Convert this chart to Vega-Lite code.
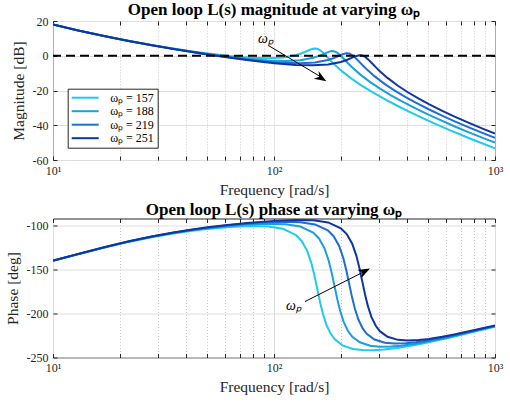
{
  "$schema": "https://vega.github.io/schema/vega-lite/v6.json",
  "background": "white",
  "padding": {"left": 4, "top": 0, "right": 0, "bottom": 0},
  "spacing": 58.5,
  "bounds": "flush",
  "resolve": {"scale": {"color": "independent"}},
  "config": {
    "font": "Liberation Serif",
    "view": {"stroke": "#262626", "strokeWidth": 1},
    "axis": {
      "labelFont": "Liberation Serif", "labelFontSize": 12, "labelColor": "#262626",
      "titleFont": "Liberation Serif", "titleFontSize": 15.5, "titleFontWeight": "normal", "titleColor": "#262626",
      "domain": false, "tickColor": "#262626", "gridColor": "#dedede", "gridWidth": 1
    },
    "title": {"font": "Liberation Serif", "fontSize": 17, "fontWeight": "bold", "color": "#000000", "offset": -3.5, "frame": "group"}
  },
  "datasets": {
    "curves": [
      {"s":"157","w":10,"m":18.03,"p":-140.18},{"s":"157","w":13,"m":14.59,"p":-132.69},{"s":"157","w":17,"m":11.38,"p":-125.21},{"s":"157","w":22,"m":8.58,"p":-118.60},{"s":"157","w":28,"m":6.20,"p":-113.22},{"s":"157","w":35,"m":4.17,"p":-108.99},{"s":"157","w":42,"m":2.65,"p":-106.12},{"s":"157","w":47.1,"m":1.76,"p":-104.56},{"s":"157","w":62.8,"m":-0.17,"p":-101.61},{"s":"157","w":78.5,"m":-1.21,"p":-100.52},{"s":"157","w":94.2,"m":-1.50,"p":-101.05},{"s":"157","w":109.9,"m":-1.04,"p":-103.75},{"s":"157","w":125.6,"m":0.33,"p":-110.72},{"s":"157","w":133.45,"m":1.43,"p":-117.53},{"s":"157","w":141.3,"m":2.75,"p":-128.75},{"s":"157","w":147.58,"m":3.75,"p":-142.69},{"s":"157","w":152.29,"m":4.16,"p":-156.55},{"s":"157","w":157,"m":3.99,"p":-172.23},{"s":"157","w":161.71,"m":3.15,"p":-187.48},{"s":"157","w":166.42,"m":1.83,"p":-200.32},{"s":"157","w":172.7,"m":-0.25,"p":-212.93},{"s":"157","w":180.55,"m":-2.83,"p":-223.08},{"s":"157","w":188.4,"m":-5.18,"p":-229.37},{"s":"157","w":204.1,"m":-9.14,"p":-236.17},{"s":"157","w":227.65,"m":-13.77,"p":-240.26},{"s":"157","w":251.2,"m":-17.44,"p":-241.59},{"s":"157","w":282.6,"m":-21.41,"p":-241.69},{"s":"157","w":314,"m":-24.70,"p":-240.94},{"s":"157","w":361.1,"m":-28.78,"p":-239.16},{"s":"157","w":408.2,"m":-32.15,"p":-237.05},{"s":"157","w":471,"m":-35.91,"p":-234.13},{"s":"157","w":549.5,"m":-39.76,"p":-230.54},{"s":"157","w":628,"m":-42.96,"p":-227.18},{"s":"157","w":785,"m":-48.05,"p":-221.29},{"s":"157","w":1000,"m":-53.24,"p":-214.88},
      {"s":"188","w":10,"m":18.02,"p":-140.05},{"s":"188","w":13,"m":14.57,"p":-132.52},{"s":"188","w":17,"m":11.35,"p":-124.99},{"s":"188","w":22,"m":8.53,"p":-118.31},{"s":"188","w":28,"m":6.11,"p":-112.83},{"s":"188","w":35,"m":4.04,"p":-108.49},{"s":"188","w":42,"m":2.45,"p":-105.49},{"s":"188","w":50,"m":1.03,"p":-103.02},{"s":"188","w":56.4,"m":0.12,"p":-101.55},{"s":"188","w":75.2,"m":-1.77,"p":-98.90},{"s":"188","w":94,"m":-2.78,"p":-97.91},{"s":"188","w":112.8,"m":-3.06,"p":-98.43},{"s":"188","w":131.6,"m":-2.58,"p":-101.07},{"s":"188","w":150.4,"m":-1.19,"p":-107.94},{"s":"188","w":159.8,"m":-0.09,"p":-114.69},{"s":"188","w":169.2,"m":1.25,"p":-125.86},{"s":"188","w":176.72,"m":2.24,"p":-139.74},{"s":"188","w":182.36,"m":2.66,"p":-153.55},{"s":"188","w":188,"m":2.50,"p":-169.21},{"s":"188","w":193.64,"m":1.67,"p":-184.42},{"s":"188","w":199.28,"m":0.35,"p":-197.22},{"s":"188","w":206.8,"m":-1.72,"p":-209.77},{"s":"188","w":216.2,"m":-4.30,"p":-219.85},{"s":"188","w":225.6,"m":-6.63,"p":-226.07},{"s":"188","w":244.4,"m":-10.57,"p":-232.72},{"s":"188","w":272.6,"m":-15.18,"p":-236.60},{"s":"188","w":300.8,"m":-18.81,"p":-237.73},{"s":"188","w":338.4,"m":-22.74,"p":-237.58},{"s":"188","w":376,"m":-25.98,"p":-236.61},{"s":"188","w":432.4,"m":-29.99,"p":-234.53},{"s":"188","w":488.8,"m":-33.29,"p":-232.18},{"s":"188","w":564,"m":-36.95,"p":-229.03},{"s":"188","w":658,"m":-40.70,"p":-225.27},{"s":"188","w":752,"m":-43.79,"p":-221.85},{"s":"188","w":940,"m":-48.70,"p":-216.05},{"s":"188","w":1000,"m":-50.01,"p":-214.48},
      {"s":"219","w":10,"m":18.02,"p":-139.96},{"s":"219","w":13,"m":14.56,"p":-132.40},{"s":"219","w":17,"m":11.33,"p":-124.83},{"s":"219","w":22,"m":8.50,"p":-118.10},{"s":"219","w":28,"m":6.06,"p":-112.56},{"s":"219","w":35,"m":3.96,"p":-108.14},{"s":"219","w":42,"m":2.34,"p":-105.05},{"s":"219","w":50,"m":0.86,"p":-102.48},{"s":"219","w":60,"m":-0.58,"p":-100.17},{"s":"219","w":65.7,"m":-1.25,"p":-99.17},{"s":"219","w":87.6,"m":-3.11,"p":-96.67},{"s":"219","w":109.5,"m":-4.10,"p":-95.69},{"s":"219","w":131.4,"m":-4.36,"p":-96.16},{"s":"219","w":153.3,"m":-3.87,"p":-98.70},{"s":"219","w":175.2,"m":-2.46,"p":-105.44},{"s":"219","w":186.15,"m":-1.35,"p":-112.13},{"s":"219","w":197.1,"m":-0.01,"p":-123.22},{"s":"219","w":205.86,"m":1.00,"p":-137.06},{"s":"219","w":212.43,"m":1.42,"p":-150.83},{"s":"219","w":219,"m":1.26,"p":-166.44},{"s":"219","w":225.57,"m":0.44,"p":-181.61},{"s":"219","w":232.14,"m":-0.88,"p":-194.36},{"s":"219","w":240.9,"m":-2.94,"p":-206.86},{"s":"219","w":251.85,"m":-5.50,"p":-216.87},{"s":"219","w":262.8,"m":-7.83,"p":-223.01},{"s":"219","w":284.7,"m":-11.75,"p":-229.52},{"s":"219","w":317.55,"m":-16.32,"p":-233.21},{"s":"219","w":350.4,"m":-19.92,"p":-234.17},{"s":"219","w":394.2,"m":-23.80,"p":-233.79},{"s":"219","w":438,"m":-26.99,"p":-232.64},{"s":"219","w":503.7,"m":-30.93,"p":-230.33},{"s":"219","w":569.4,"m":-34.16,"p":-227.84},{"s":"219","w":657,"m":-37.74,"p":-224.56},{"s":"219","w":766.5,"m":-41.38,"p":-220.76},{"s":"219","w":876,"m":-44.39,"p":-217.38},{"s":"219","w":1000,"m":-47.25,"p":-214.05},
      {"s":"251","w":10,"m":18.01,"p":-139.89},{"s":"251","w":13,"m":14.55,"p":-132.31},{"s":"251","w":17,"m":11.32,"p":-124.71},{"s":"251","w":22,"m":8.48,"p":-117.94},{"s":"251","w":28,"m":6.03,"p":-112.36},{"s":"251","w":35,"m":3.91,"p":-107.88},{"s":"251","w":42,"m":2.26,"p":-104.73},{"s":"251","w":50,"m":0.75,"p":-102.07},{"s":"251","w":60,"m":-0.74,"p":-99.66},{"s":"251","w":70,"m":-1.92,"p":-97.88},{"s":"251","w":75.3,"m":-2.46,"p":-97.12},{"s":"251","w":100.4,"m":-4.29,"p":-94.70},{"s":"251","w":125.5,"m":-5.27,"p":-93.68},{"s":"251","w":150.6,"m":-5.51,"p":-94.04},{"s":"251","w":175.7,"m":-5.00,"p":-96.46},{"s":"251","w":200.8,"m":-3.58,"p":-103.06},{"s":"251","w":213.35,"m":-2.45,"p":-109.68},{"s":"251","w":225.9,"m":-1.11,"p":-120.70},{"s":"251","w":235.94,"m":-0.09,"p":-134.47},{"s":"251","w":243.47,"m":0.34,"p":-148.20},{"s":"251","w":251,"m":0.19,"p":-163.77},{"s":"251","w":258.53,"m":-0.64,"p":-178.89},{"s":"251","w":266.06,"m":-1.94,"p":-191.60},{"s":"251","w":276.1,"m":-3.99,"p":-204.04},{"s":"251","w":288.65,"m":-6.55,"p":-213.97},{"s":"251","w":301.2,"m":-8.86,"p":-220.06},{"s":"251","w":326.3,"m":-12.76,"p":-226.44},{"s":"251","w":363.95,"m":-17.29,"p":-229.95},{"s":"251","w":401.6,"m":-20.86,"p":-230.74},{"s":"251","w":451.8,"m":-24.69,"p":-230.19},{"s":"251","w":502,"m":-27.83,"p":-228.89},{"s":"251","w":577.3,"m":-31.69,"p":-226.43},{"s":"251","w":652.6,"m":-34.86,"p":-223.83},{"s":"251","w":753,"m":-38.35,"p":-220.52},{"s":"251","w":878.5,"m":-41.90,"p":-216.76},{"s":"251","w":1000,"m":-44.74,"p":-213.60}
    ],
    "zeroLine": [{"v": 0}],
    "arrowTop": [{"w":94.9,"v":5.7},{"w":168,"v":-13.2}],
    "tipTop": [{"w":172.5,"v":-14.7}],
    "labelTop": [{"w":92,"v":9.7,"t":"ωₚ"}],
    "arrowBot": [{"w":138.1,"v":-186.4},{"w":265,"v":-150.5}],
    "tipBot": [{"w":271.9,"v":-148.9}],
    "labelBot": [{"w":123.2,"v":-192,"t":"ωₚ"}]
  },
  "vconcat": [
    {
      "width": 442, "height": 139,
      "title": {"text": "Open loop L(s) magnitude at varying ωₚ"},
      "resolve": {"axis": {"x": "independent", "y": "independent"}},
      "layer": [
        {
          "data": {"name": "curves"},
          "mark": {"type": "line", "strokeWidth": 2, "clip": true},
          "encoding": {
            "x": {"field": "w", "type": "quantitative",
              "scale": {"type": "log", "domain": [10, 1000], "nice": false},
              "axis": {
                "title": "Frequency [rad/s]",
                "values": [10,20,30,40,50,60,70,80,90,100,200,300,400,500,600,700,800,900,1000],
                "labelExpr": "datum.value == 10 ? '10¹' : datum.value == 100 ? '10²' : datum.value == 1000 ? '10³' : ''",
                "labelOverlap": false, "labelFlush": false,
                "grid": true,
                "gridDash": {"condition": {"test": "datum.value == 10 || datum.value == 100 || datum.value == 1000", "value": [1, 0]}, "value": [1, 2]},
                "gridColor": {"condition": {"test": "datum.value == 10 || datum.value == 100 || datum.value == 1000", "value": "#dcdcdc"}, "value": "#c8c8c8"},
                "tickSize": -4, "labelPadding": 9, "titlePadding": 6
              }
            },
            "y": {"field": "m", "type": "quantitative",
              "scale": {"domain": [-60, 20], "nice": false},
              "axis": {
                "title": "Magnitude [dB]",
                "values": [-60, -40, -20, 0, 20],
                "labelExpr": "'' + datum.value",
                "labelOverlap": false, "labelFlush": false,
                "grid": true, "tickSize": -4, "labelPadding": 9, "titlePadding": 6
              }
            },
            "color": {"field": "s", "type": "nominal",
              "scale": {"domain": ["157", "188", "219", "251"], "range": ["#1ccbee", "#1a9fdc", "#1d6fd3", "#0f35a3"]},
              "legend": {
                "orient": "none", "legendX": 14.7, "legendY": 67.7, "title": null,
                "strokeColor": "#262626", "fillColor": "white", "padding": 3, "cornerRadius": 0,
                "symbolType": "M-2.7,0L2.7,0", "symbolSize": 100, "symbolStrokeWidth": 2, "symbolOffset": 8.5,
                "labelFont": "Liberation Serif", "labelFontSize": 12, "labelColor": "#000000",
                "rowPadding": 1.5, "labelOffset": 19,
                "labelExpr": "'ωₚ = ' + datum.label"
              }
            }
          }
        },
        {
          "data": {"name": "zeroLine"},
          "mark": {"type": "rule", "strokeDash": [9, 5], "strokeWidth": 2, "color": "black"},
          "encoding": {"y": {"field": "v", "type": "quantitative", "axis": null}}
        },
        {
          "data": {"name": "arrowTop"},
          "mark": {"type": "line", "color": "black", "strokeWidth": 1},
          "encoding": {
            "x": {"field": "w", "type": "quantitative", "axis": null},
            "y": {"field": "v", "type": "quantitative", "axis": null}
          }
        },
        {
          "data": {"name": "tipTop"},
          "mark": {"type": "point", "shape": "M0,0L-2,-0.75L-1.4,0L-2,0.75Z", "filled": true, "color": "black", "opacity": 1, "size": 144, "angle": 32},
          "encoding": {
            "x": {"field": "w", "type": "quantitative",
              "axis": {"orient": "top", "title": null, "labels": false, "grid": false, "tickSize": -4,
                "values": [10,20,30,40,50,60,70,80,90,100,200,300,400,500,600,700,800,900,1000]}},
            "y": {"field": "v", "type": "quantitative",
              "axis": {"orient": "right", "title": null, "labels": false, "grid": false, "tickSize": -4,
                "values": [-60, -40, -20, 0, 20]}}
          }
        },
        {
          "data": {"name": "labelTop"},
          "mark": {"type": "text", "font": "Liberation Serif", "fontSize": 14, "fontStyle": "italic", "color": "#000000", "align": "center", "baseline": "middle"},
          "encoding": {
            "x": {"field": "w", "type": "quantitative", "axis": null},
            "y": {"field": "v", "type": "quantitative", "axis": null},
            "text": {"field": "t"}
          }
        }
      ]
    },
    {
      "width": 442, "height": 139,
      "title": {"text": "Open loop L(s) phase at varying ωₚ", "offset": -1},
      "resolve": {"axis": {"x": "independent", "y": "independent"}},
      "layer": [
        {
          "data": {"name": "curves"},
          "mark": {"type": "line", "strokeWidth": 2, "clip": true},
          "encoding": {
            "x": {"field": "w", "type": "quantitative",
              "scale": {"type": "log", "domain": [10, 1000], "nice": false},
              "axis": {
                "title": "Frequency [rad/s]",
                "values": [10,20,30,40,50,60,70,80,90,100,200,300,400,500,600,700,800,900,1000],
                "labelExpr": "datum.value == 10 ? '10¹' : datum.value == 100 ? '10²' : datum.value == 1000 ? '10³' : ''",
                "labelOverlap": false, "labelFlush": false,
                "grid": true,
                "gridDash": {"condition": {"test": "datum.value == 10 || datum.value == 100 || datum.value == 1000", "value": [1, 0]}, "value": [1, 2]},
                "gridColor": {"condition": {"test": "datum.value == 10 || datum.value == 100 || datum.value == 1000", "value": "#dcdcdc"}, "value": "#c8c8c8"},
                "tickSize": -4, "labelPadding": 9, "titlePadding": 6
              }
            },
            "y": {"field": "p", "type": "quantitative",
              "scale": {"domain": [-250, -92], "nice": false},
              "axis": {
                "title": "Phase [deg]",
                "values": [-250, -200, -150, -100],
                "labelExpr": "'' + datum.value",
                "labelOverlap": false, "labelFlush": false,
                "grid": true, "tickSize": -4, "labelPadding": 9, "titlePadding": 6
              }
            },
            "color": {"field": "s", "type": "nominal",
              "scale": {"domain": ["157", "188", "219", "251"], "range": ["#1ccbee", "#1a9fdc", "#1d6fd3", "#0f35a3"]},
              "legend": null
            }
          }
        },
        {
          "data": {"name": "arrowBot"},
          "mark": {"type": "line", "color": "black", "strokeWidth": 1},
          "encoding": {
            "x": {"field": "w", "type": "quantitative", "axis": null},
            "y": {"field": "v", "type": "quantitative", "axis": null}
          }
        },
        {
          "data": {"name": "tipBot"},
          "mark": {"type": "point", "shape": "M0,0L-2,-0.75L-1.4,0L-2,0.75Z", "filled": true, "color": "black", "opacity": 1, "size": 144, "angle": -27},
          "encoding": {
            "x": {"field": "w", "type": "quantitative",
              "axis": {"orient": "top", "title": null, "labels": false, "grid": false, "tickSize": -4,
                "values": [10,20,30,40,50,60,70,80,90,100,200,300,400,500,600,700,800,900,1000]}},
            "y": {"field": "v", "type": "quantitative",
              "axis": {"orient": "right", "title": null, "labels": false, "grid": false, "tickSize": -4,
                "values": [-250, -200, -150, -100]}}
          }
        },
        {
          "data": {"name": "labelBot"},
          "mark": {"type": "text", "font": "Liberation Serif", "fontSize": 14, "fontStyle": "italic", "color": "#000000", "align": "center", "baseline": "middle"},
          "encoding": {
            "x": {"field": "w", "type": "quantitative", "axis": null},
            "y": {"field": "v", "type": "quantitative", "axis": null},
            "text": {"field": "t"}
          }
        }
      ]
    }
  ]
}
